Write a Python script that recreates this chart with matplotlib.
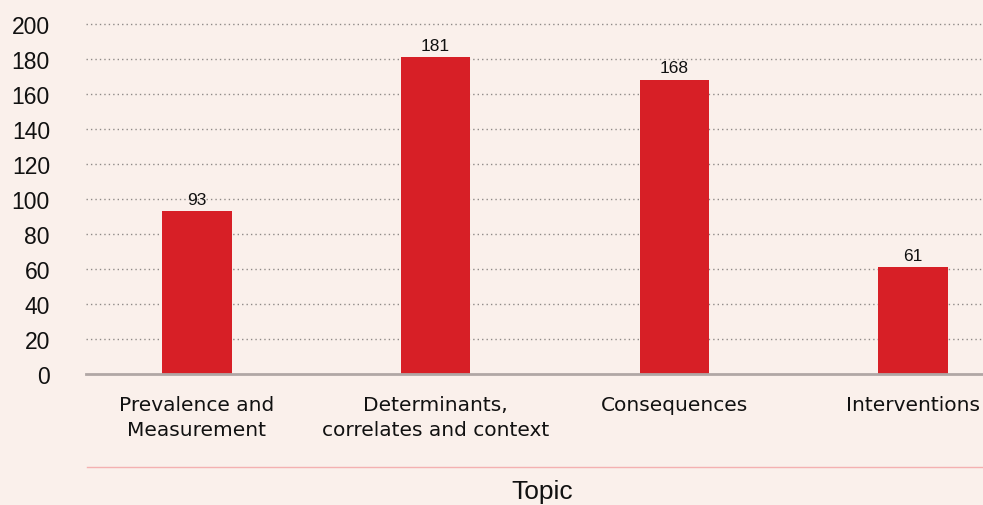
import matplotlib.pyplot as plt
from matplotlib.lines import Line2D

categorias = ["Prevalence and\nMeasurement", "Determinants,\ncorrelates and context",
              "Consequences", "Interventions"]
valores = [93, 181, 168, 61]
yticks = [0, 20, 40, 60, 80, 100, 120, 140, 160, 180, 200]

fundo = "#FAF0EB"
vermelho = "#D71F26"

plt.rcParams['font.family'] = ['Liberation Sans', 'DejaVu Sans']

fig = plt.figure(figsize=(9.83, 5.06), dpi=100, facecolor=fundo)
ax = fig.add_axes([86 / 983, 1 - 375 / 506, 1 - 86 / 983, 375 / 506])
ax.set_facecolor(fundo)

pos = list(range(len(valores)))
ax.bar(pos, valores, width=0.29, color=vermelho, zorder=3)
for x, v in zip(pos, valores):
    ax.annotate(str(v), (x, v), xytext=(0, 3), textcoords="offset points",
                ha="center", va="bottom", fontsize=12.5, color="#111111")

ax.set_xlim(-0.465, 3.293)
ax.set_ylim(0, 214)
ax.set_yticks(yticks)
ax.set_yticklabels([str(t) for t in yticks], fontsize=16.5, color="#111111")
ax.set_xticks(pos)
ax.set_xticklabels(categorias, fontsize=14.5, color="#111111", linespacing=1.4,
                   family="DejaVu Sans")
ax.tick_params(axis="y", length=0, pad=26)
ax.tick_params(axis="x", length=0, pad=15)

ax.grid(axis="y", color="#8F8A88", linestyle=(0, (1, 2.2)), linewidth=1.0, zorder=0)
for gl, t in zip(ax.get_ygridlines(), yticks):
    if t == 0:
        gl.set_visible(False)

for s in ["top", "right", "left"]:
    ax.spines[s].set_visible(False)
ax.spines["bottom"].set_color("#B0A7A5")
ax.spines["bottom"].set_linewidth(2)
ax.spines["bottom"].set_zorder(4)

# linha rosa acima do título do eixo
fig.add_artist(Line2D([87 / 983, 1], [1 - 468 / 506, 1 - 468 / 506],
                      transform=fig.transFigure, color="#F4B1B1", linewidth=1))
fig.text(542 / 983, 1 - 492 / 506, "Topic", ha="center", va="center",
         fontsize=19, color="#111111")

fig.savefig("out.png", dpi=100, facecolor=fundo)
